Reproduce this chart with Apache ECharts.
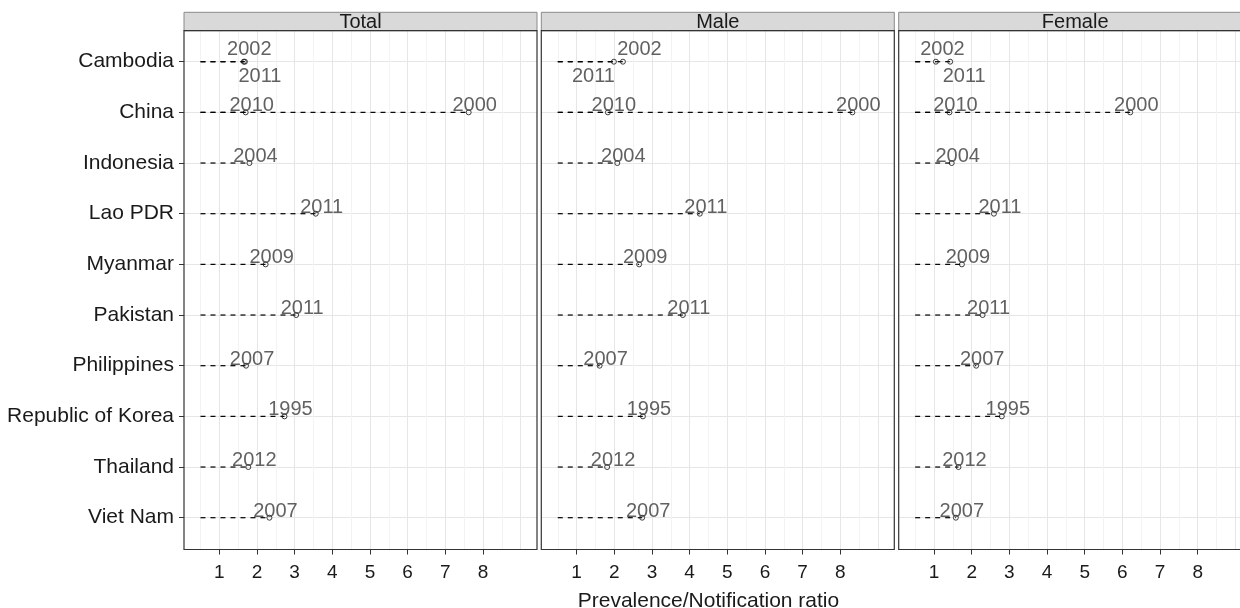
<!DOCTYPE html>
<html>
<head>
<meta charset="utf-8">
<script src="https://cdn.jsdelivr.net/npm/echarts@6/dist/echarts.min.js"></script>
<style>
  html, body { margin: 0; padding: 0; background: #ffffff; }
  #chart { width: 1240px; height: 608px; }
</style>
</head>
<body>
<div id="chart"></div>
<script>
// ---- data -----------------------------------------------------------------
const countries = ['Cambodia', 'China', 'Indonesia', 'Lao PDR', 'Myanmar',
  'Pakistan', 'Philippines', 'Republic of Korea', 'Thailand', 'Viet Nam'];

// one entry per survey
const pointCountry = ['Cambodia', 'Cambodia', 'China', 'China', 'Indonesia', 'Lao PDR',
  'Myanmar', 'Pakistan', 'Philippines', 'Republic of Korea', 'Thailand', 'Viet Nam'];
const pointYear = [2002, 2011, 2010, 2000, 2004, 2011, 2009, 2011, 2007, 1995, 2012, 2007];

const ratioTotal  = [1.65, 1.68, 1.70, 7.62, 1.80, 3.56, 2.23, 3.04, 1.71, 2.73, 1.77, 2.33];
const ratioMale   = [2.23, 1.99, 1.83, 8.32, 2.08, 4.27, 2.66, 3.82, 1.61, 2.76, 1.81, 2.74];
const ratioFemale = [1.05, 1.43, 1.41, 6.21, 1.47, 2.59, 1.74, 2.29, 2.12, 2.80, 1.65, 1.58];

const panelNames = ['Total', 'Male', 'Female'];
const panelRatios = [ratioTotal, ratioMale, ratioFemale];
const xTickValues = [1, 2, 3, 4, 5, 6, 7, 8];
const axisTitle = 'Prevalence/Notification ratio';
const LINE_START = 0.5;   // dashed guides run from this ratio to each point

// ---- layout ---------------------------------------------------------------
const FONT = '"Liberation Sans", Arial, Helvetica, sans-serif';
const CANVAS_W = 1240;
const UNIT = 37.67;                       // px per ratio unit
const PANEL_LEFT = [184, 541.3, 898.7];
const PANEL_W = 353;
const PANEL_TOP = 30.7, PANEL_BOTTOM = 549.5;
const ROW_TOP = 61.7, ROW_BOTTOM = 517.7; // first / last category rows
const STRIP_TOP = 12.3;
const ORIGIN_PAD = 35.3;                  // px from panel edge to ratio = 1
const X_MIN = 1 - ORIGIN_PAD / UNIT;

// label placement (offset of the label centre from its point)
const DEFAULT_LABEL_OFFSET = [6, -6.5];
const labelOffsetOverrides = {
  'Total|Cambodia|2002':  [5.5, -12],
  'Total|Cambodia|2011':  [15, 15],
  'Male|Cambodia|2002':   [16.5, -12],
  'Male|Cambodia|2011':   [-20.5, 15],
  'Female|Cambodia|2002': [6.5, -12],
  'Female|Cambodia|2011': [14, 15]
};

function gridBox(left, width, top, height) {
  return { left: left, width: width, top: top, height: height,
    containLabel: false, outerBoundsMode: 'none' };
}

const grids = [], xAxes = [], yAxes = [], series = [], graphics = [];

panelNames.forEach(function (name, p) {
  const left = PANEL_LEFT[p];
  const ratios = panelRatios[p];
  // the last panel runs past the canvas edge; keep the data grid inside it
  const dataW = Math.min(PANEL_W, CANVAS_W - left);
  const dataXMax = X_MIN + dataW / UNIT;

  // grid 3p: vertical grid lines (major + minor)
  grids.push(gridBox(left + ORIGIN_PAD - 0.5 * UNIT, 8.5 * UNIT, PANEL_TOP, PANEL_BOTTOM - PANEL_TOP));
  xAxes.push({ gridIndex: 3 * p, type: 'value', min: 0.5, max: 9, interval: 0.5,
    axisLine: { show: false }, axisTick: { show: false }, axisLabel: { show: false },
    splitLine: { show: true, lineStyle: { color: ['#f3f3f3', '#e6e6e6'], width: 1 } } });
  yAxes.push({ gridIndex: 3 * p, type: 'value', min: 0, max: 1, show: false });

  // grid 3p+1: data
  grids.push(gridBox(left, dataW, ROW_TOP, ROW_BOTTOM - ROW_TOP));
  xAxes.push({ gridIndex: 3 * p + 1, type: 'value', min: X_MIN, max: dataXMax, show: false });
  yAxes.push({ gridIndex: 3 * p + 1, type: 'category', data: countries, inverse: true,
    boundaryGap: false,
    axisLine: { show: false },
    axisTick: { show: p === 0, length: 5, lineStyle: { color: '#333333', width: 1 } },
    axisLabel: { show: p === 0, interval: 0, margin: 10, fontSize: 21,
      fontFamily: FONT, color: '#1a1a1a' },
    splitLine: { show: true, interval: 0, lineStyle: { color: '#e6e6e6', width: 1 } } });

  // grid 3p+2: ticks and tick labels
  grids.push(gridBox(left + ORIGIN_PAD, (xTickValues[xTickValues.length - 1] - xTickValues[0]) * UNIT,
    PANEL_TOP, PANEL_BOTTOM - PANEL_TOP));
  const tickAxis = { gridIndex: 3 * p + 2, type: 'value',
    min: xTickValues[0], max: xTickValues[xTickValues.length - 1], interval: 1,
    axisLine: { show: false },
    axisTick: { show: true, length: 5, lineStyle: { color: '#333333', width: 1 } },
    axisLabel: { margin: 14, fontSize: 19, fontFamily: FONT, color: '#1a1a1a' },
    splitLine: { show: false } };
  if (p === 1) {
    tickAxis.name = axisTitle;
    tickAxis.nameLocation = 'middle';
    tickAxis.nameGap = 41;
    tickAxis.nameTextStyle = { fontSize: 21, fontFamily: FONT, color: '#1a1a1a' };
  }
  xAxes.push(tickAxis);
  yAxes.push({ gridIndex: 3 * p + 2, type: 'value', min: 0, max: 1, show: false });

  const pts = ratios.map(function (v, i) { return [v, pointCountry[i]]; });

  // dashed guide from LINE_START to each point
  series.push({
    type: 'custom', xAxisIndex: 3 * p + 1, yAxisIndex: 3 * p + 1,
    data: pts, silent: true, z: 3,
    renderItem: function (params, api) {
      const row = api.value(1);
      const a = api.coord([LINE_START, row]);
      const b = api.coord([api.value(0), row]);
      return { type: 'line',
        shape: { x1: a[0], y1: a[1], x2: b[0], y2: b[1] },
        style: { stroke: '#000000', lineWidth: 1.2, lineDash: [5, 5] } };
    }
  });

  // open circles with survey-year labels
  series.push({
    type: 'scatter', xAxisIndex: 3 * p + 1, yAxisIndex: 3 * p + 1, z: 4,
    symbol: 'circle', symbolSize: 5, silent: true,
    itemStyle: { color: 'rgba(255,255,255,0)', borderColor: '#111111', borderWidth: 1 },
    emphasis: { disabled: true },
    label: { show: true, position: 'inside', fontSize: 20, fontFamily: FONT,
      color: '#3a3a3a', textBorderWidth: 0,
      formatter: function (prm) { return String(pointYear[prm.dataIndex]); } },
    data: pts.map(function (d, i) {
      const key = name + '|' + pointCountry[i] + '|' + pointYear[i];
      return { value: d, label: { offset: labelOffsetOverrides[key] || DEFAULT_LABEL_OFFSET } };
    })
  });

  // facet strip
  graphics.push({ type: 'rect', z: 100,
    shape: { x: left, y: STRIP_TOP, width: PANEL_W, height: PANEL_TOP - STRIP_TOP },
    style: { fill: '#d9d9d9', stroke: '#8a8a8a', lineWidth: 1 } });
  graphics.push({ type: 'text', z: 101, x: left + PANEL_W / 2, y: (STRIP_TOP + PANEL_TOP) / 2 + 0.5,
    style: { text: name, fontSize: 20, fontFamily: FONT, fill: '#1a1a1a',
      align: 'center', verticalAlign: 'middle', textAlign: 'center', textVerticalAlign: 'middle' } });
  // panel border
  graphics.push({ type: 'rect', z: 100,
    shape: { x: left, y: PANEL_TOP, width: PANEL_W, height: PANEL_BOTTOM - PANEL_TOP },
    style: { fill: 'none', stroke: '#333333', lineWidth: 1.2 } });
});

const chart = echarts.init(document.getElementById('chart'), null, { renderer: 'canvas' });
chart.setOption({
  backgroundColor: '#ffffff',
  animation: false,
  grid: grids,
  xAxis: xAxes,
  yAxis: yAxes,
  series: series,
  graphic: graphics
});
</script>
</body>
</html>
